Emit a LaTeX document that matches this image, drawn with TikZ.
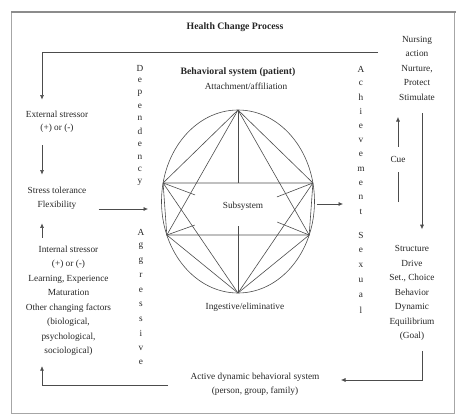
\documentclass[tikz,border=0pt]{standalone}
\usepackage{fontspec}
\setmainfont{Liberation Serif}
\usetikzlibrary{arrows.meta}

\tikzset{
  txt/.style={font=\fontsize{9.3}{14.5}\selectfont, align=center, inner sep=0pt, text=black!85},
  bold/.style={txt, font=\fontsize{9.8}{12}\selectfont\bfseries},
  letter/.style={font=\fontsize{9.3}{10}\selectfont, inner sep=0pt, text=black!85},
  conn/.style={draw=black!70, line width=0.6pt},
  arr/.style={conn, -{Latex[length=4.5pt,width=4pt]}},
}

\begin{document}
\begin{tikzpicture}[x=1pt,y=-1pt]
    \useasboundingbox (0,0) rectangle (456,416);

    % Frame
    \draw[black!35, line width=0.7pt] (11,12) rectangle (454,413);
    \draw[black!45, line width=1.4pt] (11,12) -- (456,12);

    % Ellipse parameters
    \def\rx{76.5} % horizontal radius
    \def\ry{91.5} % vertical radius
    \coordinate (C) at (238,201.5); % centre of the behavioral system

    % Corners of the subsystem box, on the ellipse
    \coordinate (T) at (238,110); % top vertex
    \coordinate (B) at (238,293); % bottom vertex
    \coordinate (E) at (314.5,201.5); % right edge
    \coordinate (TL) at ({238+\rx*cos(191.7)},{201.5+\ry*sin(191.7)});
    \coordinate (TR) at ({238+\rx*cos(348.3)},{201.5+\ry*sin(348.3)});
    \coordinate (BL) at ({238+\rx*cos(158.5)},{201.5+\ry*sin(158.5)});
    \coordinate (BR) at ({238+\rx*cos(21.5)},{201.5+\ry*sin(21.5)});

    % Draw the ellipse
    \draw[conn] (C) ellipse [x radius=76.5pt, y radius=91.5pt];

    % Box and rays
    \draw[conn] (TL) -- (TR) -- (BR) -- (BL) -- cycle;
    \draw[conn] (T) -- (TL);
    \draw[conn] (T) -- (TR);
    \draw[conn] (T) -- (BL);
    \draw[conn] (T) -- (BR);
    \draw[conn] (B) -- (BL);
    \draw[conn] (B) -- (BR);
    \draw[conn] (B) -- (TL);
    \draw[conn] (B) -- (TR);
    \draw[conn] (T) -- (T |- TL);
    \draw[conn] (B) -- ++(0,-67);

    % Short ticks in the corners
    \draw[conn] (TL) -- ++(32,12);
    \draw[conn] (BL) -- ++(28,-10);
    \draw[conn] (TR) -- ++(-36,14);
    \draw[conn] (BR) -- ++(-32,-13);

    % Texts
    \node[bold, font=\fontsize{9.8}{12}\selectfont\bfseries] (title) at (235,27) {Health Change Process};
    \node[bold] (bsys) at (238,72) {Behavioral system (patient)};
    \node[txt] (attach) at (246,86) {Attachment/affiliation};
    \node[txt] (sub) at (243,206) {Subsystem};
    \node[txt] (ingest) at (245,307) {Ingestive/eliminative};

    \node[txt] (ext) at (57,121.5) {External stressor\\[-1.5pt](+) or (-)};
    \node[txt] (stress) at (57,198) {Stress tolerance\\[-0.5pt]Flexibility};
    \node[txt] (int) at (68.5,301) {Internal stressor\\(+) or (-)\\Learning, Experience\\Maturation\\Other changing factors\\(biological,\\psychological,\\sociological)};
    \node[txt] (nurse) at (417,68) {Nursing\\action\\Nurture,\\Protect\\Stimulate};
    \node[txt] (struct) at (412,293) {Structure\\Drive\\Set., Choice\\Behavior\\Dynamic\\Equilibrium\\(Goal)};
    \node[txt] (act) at (255,384) {Active dynamic behavioral system\\[-0.5pt](person, group, family)};

    % Letter columns
    \foreach \l [count=\i] in {D,e,p,e,n,d,e,n,c,y}
        \node[letter] (dep\i) at (140,{68+12.7*(\i-1)}) {\l};
    \foreach \l [count=\i] in {A,g,g,r,e,s,s,i,v,e}
        \node[letter] (agg\i) at (141,{232+14.5*(\i-1)}) {\l};
    \foreach \l [count=\i] in {A,c,h,i,e,v,e,m,e,n,t}
        \node[letter] (ach\i) at (361,{69+14.3*(\i-1)}) {\l};
    \foreach \l [count=\i] in {S,e,x,u,a,l}
        \node[letter] (sex\i) at (361,{235+15*(\i-1)}) {\l};

    % Left side arrows
    \coordinate (L) at (42,0); % column of the left arrows
    \coordinate (topR) at (378,52);
    \coordinate (botR) at (168,385);
    \coordinate (flexIn) at (148,209);
    \draw[arr, shorten >=11pt] (topR) -| (ext.north -| L);
    \draw[arr, shorten <=13pt, shorten >=12pt] (ext.south -| L) -- (stress.north -| L);
    \draw[arr, shorten <=8pt, shorten >=14pt] (int.north -| L) -- (stress.south -| L);
    \draw[arr, shorten >=10pt] (botR) -| (int.south -| L);
    \draw[arr, shorten <=12pt] (stress.east |- flexIn) -- (flexIn);

    % Ellipse to achievement
    \coordinate (achIn) at (343,204);
    \draw[arr, shorten <=2pt] (E |- achIn) -- (achIn);

    % Right side arrows
    \coordinate (R) at (422,0); % column of the right arrows
    \coordinate (cueBot) at (398,202);
    \coordinate (cueTop) at (398,117);
    \coordinate (actIn) at (341,380);
    \draw[arr, shorten <=13pt, shorten >=16pt] (nurse.south -| R) -- (struct.north -| R);
    \draw[arr] (cueBot) -- node[txt, fill=white, inner ysep=9pt, inner xsep=1pt] (cue) {Cue} (cueTop);
    \draw[arr, shorten <=10pt] (struct.south -| R) |- (actIn);

\end{tikzpicture}
\end{document}
